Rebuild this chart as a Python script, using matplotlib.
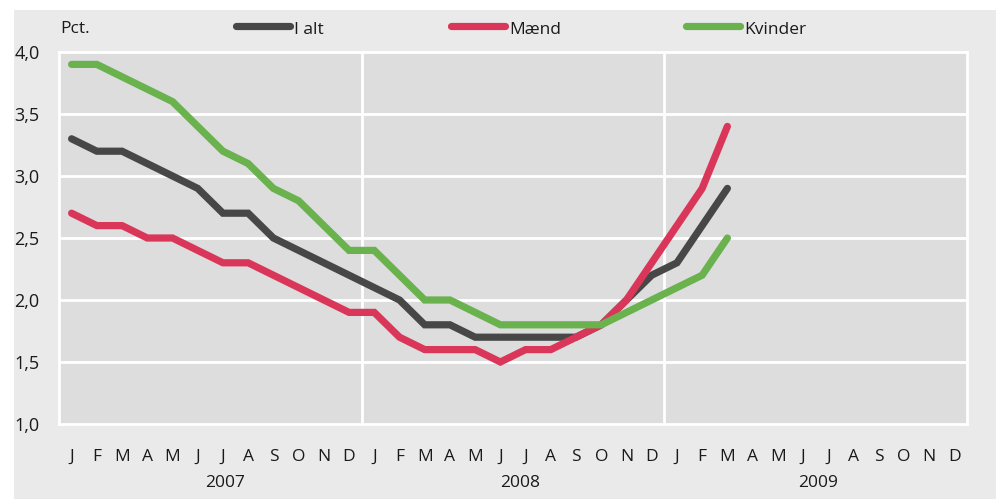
import matplotlib
matplotlib.use("Agg")
import matplotlib.pyplot as plt
from matplotlib.patches import Rectangle
from matplotlib.lines import Line2D

plt.rcParams['font.family'] = ['Open Sans', 'DejaVu Sans']

months = ["J", "F", "M", "A", "M", "J", "J", "A", "S", "O", "N", "D"] * 3
years = ["2007", "2008", "2009"]

i_alt = [3.3, 3.2, 3.2, 3.1, 3.0, 2.9, 2.7, 2.7, 2.5, 2.4, 2.3, 2.2,
         2.1, 2.0, 1.8, 1.8, 1.7, 1.7, 1.7, 1.7, 1.7, 1.8, 2.0, 2.2,
         2.3, 2.6, 2.9]
maend = [2.7, 2.6, 2.6, 2.5, 2.5, 2.4, 2.3, 2.3, 2.2, 2.1, 2.0, 1.9,
         1.9, 1.7, 1.6, 1.6, 1.6, 1.5, 1.6, 1.6, 1.7, 1.8, 2.0, 2.3,
         2.6, 2.9, 3.4]
kvinder = [3.9, 3.9, 3.8, 3.7, 3.6, 3.4, 3.2, 3.1, 2.9, 2.8, 2.6, 2.4,
           2.4, 2.2, 2.0, 2.0, 1.9, 1.8, 1.8, 1.8, 1.8, 1.8, 1.9, 2.0,
           2.1, 2.2, 2.5]
series_names = ["I alt", "Mænd", "Kvinder"]
colors = ["#474747", "#d93659", "#6ab24d"]

W, H = 1000, 499
fig = plt.figure(figsize=(W / 100, H / 100), dpi=100)
fig.patch.set_facecolor("white")
fig.patches.append(Rectangle((14 / W, 0), (996 - 14) / W, (H - 10) / H,
                             transform=fig.transFigure, facecolor="#eaeaea",
                             edgecolor="none", zorder=-10))

left, right, top, bottom = 59, 967, 52, 424
ax = fig.add_axes([left / W, 1 - bottom / H, (right - left) / W, (bottom - top) / H])
ax.set_facecolor("#dddddd")
for s in ax.spines.values():
    s.set_color("white")
    s.set_linewidth(2)

ax.set_xlim(-0.5, 35.5)
ax.set_ylim(1.0, 4.0)
yt = [1.0, 1.5, 2.0, 2.5, 3.0, 3.5, 4.0]
ax.set_yticks(yt)
ax.set_yticklabels([f"{v:.1f}".replace(".", ",") for v in yt], fontsize=13, color="#1a1a1a")
for v in yt[1:-1]:
    ax.axhline(v, color="white", lw=2, zorder=1)
for v in [11.5, 23.5]:
    ax.axvline(v, color="white", lw=2, zorder=1)

ax.set_xticks(range(36))
ax.set_xticklabels(months, fontsize=12.5, color="#1a1a1a")
ax.tick_params(axis="both", length=0)
ax.tick_params(axis="x", pad=18)
ax.tick_params(axis="y", pad=14)

x = list(range(len(i_alt)))
for data, c, n in zip([i_alt, maend, kvinder], colors, series_names):
    ax.plot(x, data, color=c, lw=5.2, solid_capstyle="round",
            solid_joinstyle="miter", zorder=3, label=n)

year_pos = [6.1, 17.8, 29.6]
for xp, yr in zip(year_pos, years):
    ax.text(xp, -0.158, yr, transform=ax.get_xaxis_transform(),
            ha="center", va="center", fontsize=12.5, color="#1a1a1a")

fig.text(60 / W, 1 - 29 / H, "Pct.", fontsize=12.5, color="#1a1a1a", va="center", ha="left")

# legend drawn manually from the series
leg_x = [236, 451, 686]
for lx, c, n in zip(leg_x, colors, series_names):
    fig.add_artist(Line2D([lx / W, (lx + 54) / W], [1 - 26 / H, 1 - 26 / H],
                          transform=fig.transFigure, color=c, lw=5.2,
                          solid_capstyle="round"))
    fig.text((lx + 58) / W, 1 - 30 / H, n, fontsize=12.5, color="#1a1a1a",
             va="center", ha="left")

fig.savefig("out.png", dpi=100)
